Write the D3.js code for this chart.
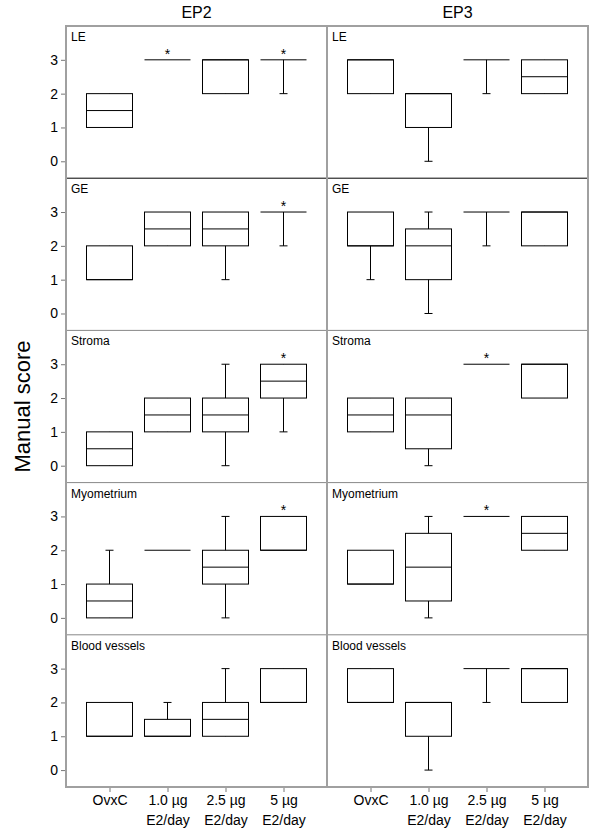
<!DOCTYPE html>
<html>
<head>
<meta charset="utf-8">
<script src="https://cdn.jsdelivr.net/npm/d3@7"></script>
<style>
  body { margin: 0; background: #fff; }
  svg { font-family: "Liberation Sans", Arial, sans-serif; }
</style>
</head>
<body>
<div id="chart"></div>
<script>
// groups on the x axis
const categories = ["OvxC", "1.0 µg|E2/day", "2.5 µg|E2/day", "5 µg|E2/day"];
const periods = ["EP2", "EP3"];
const tissues = ["LE", "GE", "Stroma", "Myometrium", "Blood vessels"];
const yTicks = [0, 1, 2, 3];

// box stats per group: [min, q1, median, q3, max]
const LE_EP2 = [[1, 1, 1.5, 2, 2], [3, 3, 3, 3, 3], [2, 2, 3, 3, 3], [2, 3, 3, 3, 3]];
const LE_EP3 = [[2, 2, 3, 3, 3], [0, 1, 2, 2, 2], [2, 3, 3, 3, 3], [2, 2, 2.5, 3, 3]];
const GE_EP2 = [[1, 1, 1, 2, 2], [2, 2, 2.5, 3, 3], [1, 2, 2.5, 3, 3], [2, 3, 3, 3, 3]];
const GE_EP3 = [[1, 2, 2, 3, 3], [0, 1, 2, 2.5, 3], [2, 3, 3, 3, 3], [2, 2, 3, 3, 3]];
const Stroma_EP2 = [[0, 0, 0.5, 1, 1], [1, 1, 1.5, 2, 2], [0, 1, 1.5, 2, 3], [1, 2, 2.5, 3, 3]];
const Stroma_EP3 = [[1, 1, 1.5, 2, 2], [0, 0.5, 1.5, 2, 2], [3, 3, 3, 3, 3], [2, 2, 3, 3, 3]];
const Myo_EP2 = [[0, 0, 0.5, 1, 2], [2, 2, 2, 2, 2], [0, 1, 1.5, 2, 3], [2, 2, 2, 3, 3]];
const Myo_EP3 = [[1, 1, 1, 2, 2], [0, 0.5, 1.5, 2.5, 3], [3, 3, 3, 3, 3], [2, 2, 2.5, 3, 3]];
const BV_EP2 = [[1, 1, 1, 2, 2], [1, 1, 1, 1.5, 2], [1, 1, 1.5, 2, 3], [2, 2, 2, 3, 3]];
const BV_EP3 = [[2, 2, 2, 3, 3], [0, 1, 2, 2, 2], [2, 3, 3, 3, 3], [2, 2, 3, 3, 3]];

// significance stars (1 = *)
const LE_EP2_sig = [0, 1, 0, 1], LE_EP3_sig = [0, 0, 0, 0];
const GE_EP2_sig = [0, 0, 0, 1], GE_EP3_sig = [0, 0, 0, 0];
const Stroma_EP2_sig = [0, 0, 0, 1], Stroma_EP3_sig = [0, 0, 1, 0];
const Myo_EP2_sig = [0, 0, 0, 1], Myo_EP3_sig = [0, 0, 1, 0];
const BV_EP2_sig = [0, 0, 0, 0], BV_EP3_sig = [0, 0, 0, 0];

const boxes = [[LE_EP2, LE_EP3], [GE_EP2, GE_EP3], [Stroma_EP2, Stroma_EP3], [Myo_EP2, Myo_EP3], [BV_EP2, BV_EP3]];
const stars = [[LE_EP2_sig, LE_EP3_sig], [GE_EP2_sig, GE_EP3_sig], [Stroma_EP2_sig, Stroma_EP3_sig],
               [Myo_EP2_sig, Myo_EP3_sig], [BV_EP2_sig, BV_EP3_sig]];

const width = 600, height = 834,
      margin = ({top: 26, right: 12, bottom: 47, left: 66});

const svg = d3.select("#chart")
    .append("svg")
    .attr("width", width)
    .attr("height", height);

const panelW = (width - margin.left - margin.right) / 2;
const rowH = (height - margin.top - margin.bottom) / tissues.length;
const boxW = 46, capW = 8;

// one panel per column
let panelX = d3.scaleBand()
    .domain(periods)
    .range([margin.left, width - margin.right]);

let rowY = d3.scaleBand()
    .domain(tissues)
    .range([margin.top, height - margin.bottom]);

periods.forEach((p, j) => {
    const x0 = panelX(p);
    let x = d3.scalePoint()
        .domain(categories)
        .range([x0, x0 + panelW])
        .padding(0.75);

    // column title
    svg.append("text")
        .attr("x", x0 + panelW / 2)
        .attr("y", 18)
        .attr("text-anchor", "middle")
        .attr("font-size", 16)
        .text(p);

    tissues.forEach((t, i) => {
        const top = rowY(t);
        let y = d3.scaleLinear()
            .domain([-0.5, 4])
            .range([top + rowH, top]);

        if (j === 0) {
            const ax = svg.append("g")
                .attr("transform", `translate(${margin.left},0)`)
                .call(d3.axisLeft(y).tickValues(yTicks).tickSize(5).tickFormat(d3.format("d")));
            ax.select(".domain").remove();
            ax.selectAll("line").attr("stroke", "#777");
            ax.selectAll("text").attr("font-size", 14).attr("font-family", "Liberation Sans, Arial");
        }

        // panel label
        svg.append("text")
            .attr("x", x0 + 5)
            .attr("y", top + 15)
            .attr("font-size", 12)
            .text(t);

        const g = svg.append("g");
        const data = boxes[i][j].map((v, k) => ({cat: categories[k], v: v, sig: stars[i][j][k]}));

        // whiskers
        g.selectAll(".whisker")
            .data(data)
            .join("line")
            .attr("x1", d => x(d.cat)).attr("x2", d => x(d.cat))
            .attr("y1", d => y(d.v[0])).attr("y2", d => y(d.v[4]))
            .attr("stroke", "#000");

        // caps
        [0, 4].forEach(idx => {
            g.selectAll(".cap" + idx)
                .data(data.filter(d => d.v[idx] !== d.v[idx === 0 ? 1 : 3]))
                .join("line")
                .attr("x1", d => x(d.cat) - capW / 2).attr("x2", d => x(d.cat) + capW / 2)
                .attr("y1", d => y(d.v[idx])).attr("y2", d => y(d.v[idx]))
                .attr("stroke", "#000");
        });

        // boxes
        g.selectAll(".box")
            .data(data)
            .join("rect")
            .attr("x", d => x(d.cat) - boxW / 2)
            .attr("width", boxW)
            .attr("y", d => y(d.v[3]))
            .attr("height", d => y(d.v[1]) - y(d.v[3]))
            .attr("fill", "#fff")
            .attr("stroke", "#000");

        // medians
        g.selectAll(".median")
            .data(data)
            .join("line")
            .attr("x1", d => x(d.cat) - boxW / 2).attr("x2", d => x(d.cat) + boxW / 2)
            .attr("y1", d => y(d.v[2])).attr("y2", d => y(d.v[2]))
            .attr("stroke", "#000");

        g.selectAll(".star")
            .data(data.filter(d => d.sig))
            .join("text")
            .attr("x", d => x(d.cat))
            .attr("y", d => y(d.v[4]) - 1)
            .attr("text-anchor", "middle")
            .attr("font-size", 14)
            .text("*");

        // row separator
        if (i > 0) {
            svg.append("line")
                .attr("x1", x0).attr("x2", x0 + panelW)
                .attr("y1", top).attr("y2", top)
                .attr("stroke", i === 1 ? "#000" : "#888")
                .attr("stroke-width", 1);
        }
    });

    // bottom axis with two-line labels
    const bx = svg.append("g")
        .attr("transform", `translate(0,${height - margin.bottom})`)
        .call(d3.axisBottom(x).tickSize(5).tickFormat(""));
    bx.select(".domain").remove();
    bx.selectAll("line").attr("stroke", "#777");
    bx.selectAll(".tick").append("text")
        .attr("fill", "#000")
        .attr("text-anchor", "middle")
        .attr("font-size", 14)
        .selectAll("tspan")
        .data(d => d.split("|"))
        .join("tspan")
        .attr("x", 0)
        .attr("y", (d, k) => 18 + k * 20)
        .text(d => d);

    // panel frame
    svg.append("rect")
        .attr("x", x0).attr("y", margin.top)
        .attr("width", panelW).attr("height", height - margin.top - margin.bottom)
        .attr("fill", "none")
        .attr("stroke", "#a0a0a0")
        .attr("stroke-width", 2);
});

svg.append("text")
    .attr("transform", `translate(30,${(margin.top + height - margin.bottom) / 2}) rotate(-90)`)
    .attr("text-anchor", "middle")
    .attr("font-size", 22)
    .text("Manual score");
</script>
</body>
</html>
